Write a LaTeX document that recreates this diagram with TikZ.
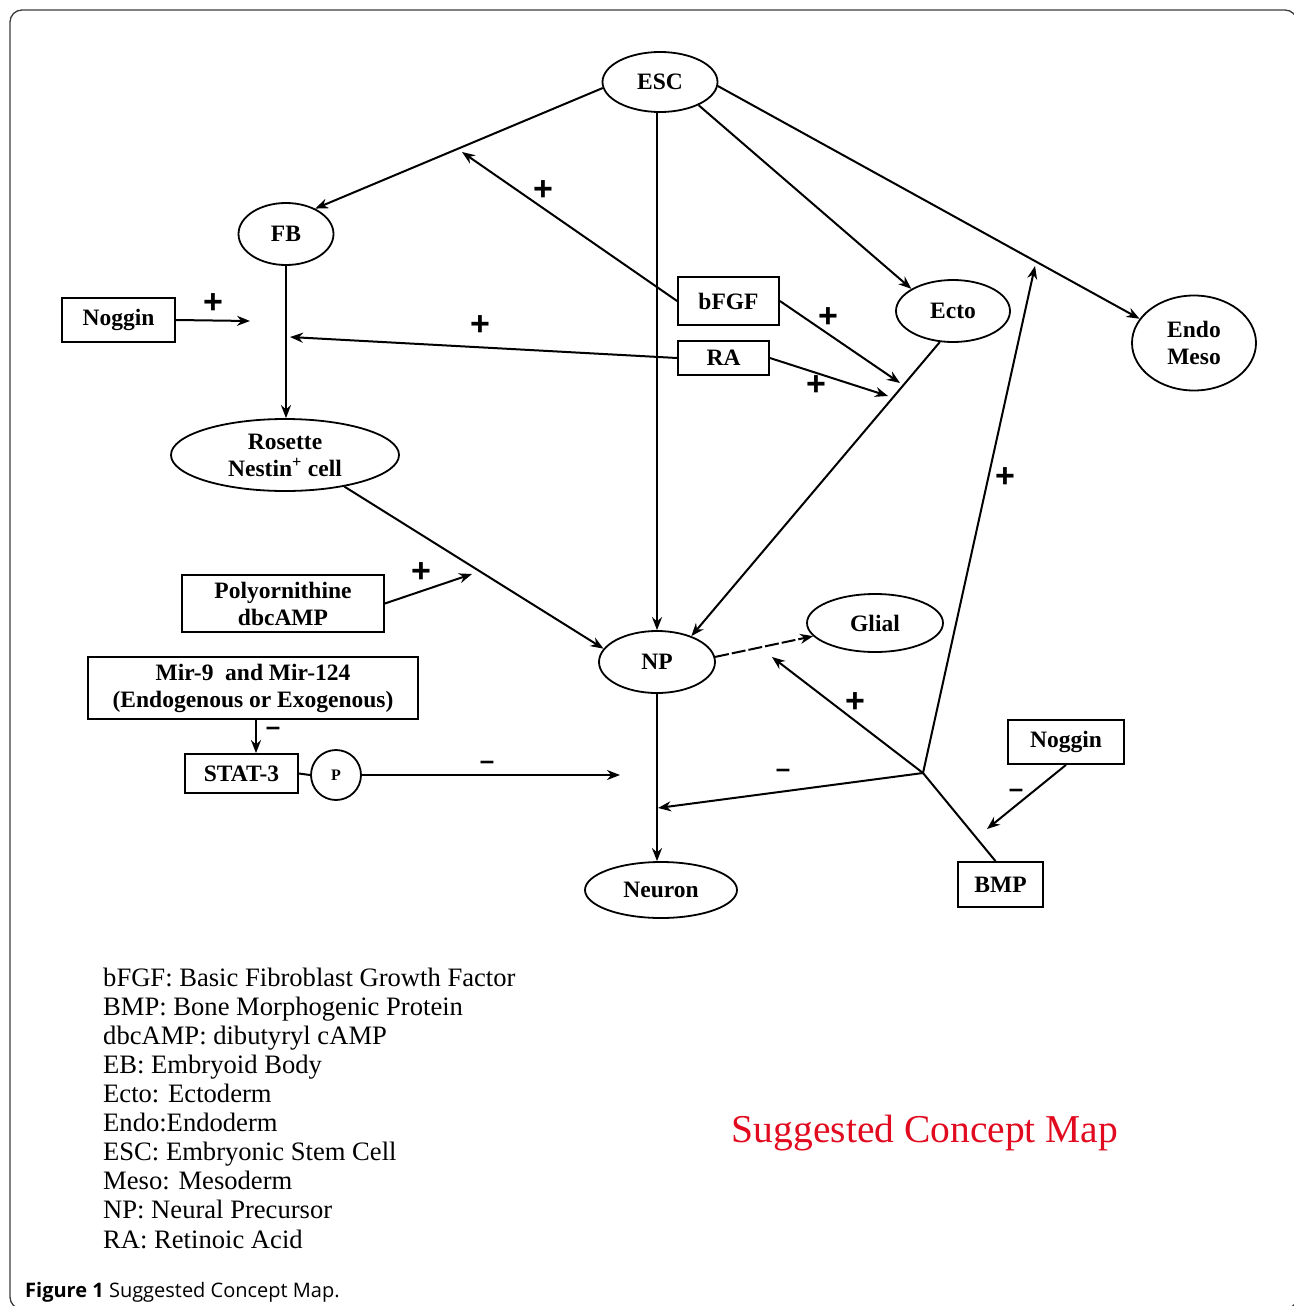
\documentclass[tikz,border=0pt]{standalone}
\usepackage{fontspec}
\setmainfont{Liberation Serif}
\setsansfont{Liberation Sans}
\newfontfamily\capfont{Open Sans}
\usetikzlibrary{shapes.geometric,arrows.meta}

\definecolor{mapred}{RGB}{225,10,30}
\definecolor{framegray}{RGB}{60,60,60}

\tikzset{
	cell/.style={ellipse, draw, line width=1.8pt, inner sep=0pt, align=center,
		font=\fontsize{23.5}{27}\selectfont\bfseries},
	factor/.style={rectangle, draw, line width=1.8pt, inner sep=0pt, align=center,
		font=\fontsize{23.5}{27}\selectfont\bfseries},
	arr/.style={-{Stealth[length=13pt,width=10pt]}, line width=2pt},
	wire/.style={line width=2pt},
	plus/.style={inner sep=0pt, font=\fontsize{34}{34}\selectfont\sffamily\bfseries},
	minus/.style={inner sep=0pt, font=\fontsize{26}{26}\selectfont\sffamily\bfseries},
	legend/.style={anchor=base west, inner sep=0pt, font=\fontsize{26.6}{29}\selectfont}
}

\begin{document}
\begin{tikzpicture}[x=1pt,y=-1pt]
	\useasboundingbox (0,0) rectangle (1293,1306);
	\draw[framegray, line width=1.3pt, rounded corners=12pt] (10,10) rectangle (1297,1309);

	% cells
	\node[cell, minimum width=115pt, minimum height=60pt] (esc) at (660,82) {ESC};
	\node[cell, minimum width=95pt, minimum height=62pt] (fb) at (286,234) {FB};
	\node[cell, minimum width=228pt, minimum height=72pt] (ros) at (285,455) {Rosette\\Nestin\textsuperscript{+} cell};
	\node[cell, minimum width=114pt, minimum height=62pt] (ecto) at (953,311) {Ecto};
	\node[cell, minimum width=124pt, minimum height=95pt] (endo) at (1194,343) {Endo\\Meso};
	\node[cell, minimum width=116pt, minimum height=62pt] (np) at (657,662) {NP};
	\node[cell, minimum width=136pt, minimum height=58pt] (glial) at (875,623) {Glial};
	\node[cell, minimum width=152pt, minimum height=56pt] (neu) at (661,890) {Neuron};

	% factors
	\node[factor, minimum width=113pt, minimum height=44pt] (nog1) at (118.5,320) {Noggin};
	\node[factor, minimum width=101pt, minimum height=48pt] (bfgf) at (728.5,301) {bFGF};
	\node[factor, minimum width=91pt, minimum height=34pt] (ra) at (723.5,358) {RA};
	\node[factor, minimum width=202pt, minimum height=57pt] (poly) at (283,603.5) {Polyornithine\\dbcAMP};
	\node[factor, minimum width=330pt, minimum height=62pt] (mir) at (253,688) {Mir-9 \ and Mir-124\\(Endogenous or Exogenous)};
	\node[factor, minimum width=113pt, minimum height=39pt] (stat) at (241.5,773.5) {STAT-3};
	\node[circle, draw, line width=1.8pt, minimum size=50pt, inner sep=0pt,
		font=\fontsize{16}{16}\selectfont\bfseries] (p) at (336,775) {P};
	\node[factor, minimum width=116pt, minimum height=44pt] (nog2) at (1066,742) {Noggin};
	\node[factor, minimum width=85pt, minimum height=45pt] (bmp) at (1000.5,884.5) {BMP};

	% free ends
	\coordinate (nogend) at (250,321);
	\coordinate (raend) at (290,337);
	\coordinate (bfgfend) at (462,152);
	\coordinate (bfgfend2) at (900,383);
	\coordinate (raend2) at (888,396);
	\coordinate (polyend) at (472,574);
	\coordinate (mirx) at (256,0);
	\coordinate (pend) at (620,775);
	\coordinate (jct) at (923,773);
	\coordinate (jctup) at (1035,266);
	\coordinate (jctnp) at (772,657);
	\coordinate (jctneu) at (658,808);
	\coordinate (bmpend) at (987,829);

	% connectors
	\draw[arr] (esc.186) -- (fb.41);
	\draw[arr] (np.north |- esc.south) -- (np.north);
	\draw[arr] (esc.-31) -- (ecto.152);
	\draw[arr] (esc.-4) -- (endo.156);
	\draw[arr] (fb.south) -- (fb.south |- ros.north);
	\draw[arr] (nog1.east) -- (nogend);
	\draw[arr] (ra.west) -- (raend);
	\draw[arr] (bfgf.west) -- (bfgfend);
	\draw[arr] (bfgf.east) -- (bfgfend2);
	\draw[arr] (ra.east) -- (raend2);
	\draw[arr] (ecto.247) -- (np.37);
	\draw[arr] (ros.-28) -- (np.166);
	\draw[arr] (poly.east) -- (polyend);
	\draw[arr] (mir.south -| mirx) -- (stat.north -| mirx);
	\draw[wire] (stat.east) -- (p.west);
	\draw[arr] (p.east) -- (pend);
	\draw[arr, dashed, dash pattern=on 14pt off 3pt] (np.5) -- (glial.192);
	\draw[arr] (np.south) -- (np.south |- neu.north);
	\draw[arr] ([xshift=-5pt]bmp.north) -- (jct) -- (jctnp);
	\draw[arr] (jct) -- (jctup);
	\draw[arr] (jct) -- (jctneu);
	\draw[arr] (nog2.south) -- (bmpend);

	% signs
	\node[plus] (s1) at (213,304) {+};
	\node[plus] (s2) at (543,191) {+};
	\node[plus] (s3) at (480,326) {+};
	\node[plus] (s4) at (828,318) {+};
	\node[plus] (s5) at (816,386) {+};
	\node[plus] (s6) at (421,573) {+};
	\node[plus] (s7) at (855,703) {+};
	\node[plus] (s8) at (1005,478) {+};
	\node[minus] (m1) at (273,731) {–};
	\node[minus] (m2) at (487,765) {–};
	\node[minus] (m3) at (783,773) {–};
	\node[minus] (m4) at (1016,793) {–};

	% legend
	\foreach \txt [count=\i] in {bFGF: Basic Fibroblast Growth Factor, BMP: Bone Morphogenic Protein,
		dbcAMP: dibutyryl cAMP, EB: Embryoid Body, Ecto: Ectoderm, Endo:Endoderm,
		ESC: Embryonic Stem Cell, Meso: Mesoderm, NP: Neural Precursor, RA: Retinoic Acid}
		\node[legend] (leg\i) at (103,{957+29.1*\i}) {\txt};

	\node[anchor=base, text=mapred, inner sep=0pt, font=\fontsize{39.5}{40}\selectfont] (title) at (925,1142) {Suggested Concept Map};
	\node[anchor=base west, inner sep=0pt, font=\capfont\fontsize{20}{20}\selectfont] (cap) at (25,1297) {\textbf{Figure 1} Suggested Concept Map.};
\end{tikzpicture}
\end{document}
